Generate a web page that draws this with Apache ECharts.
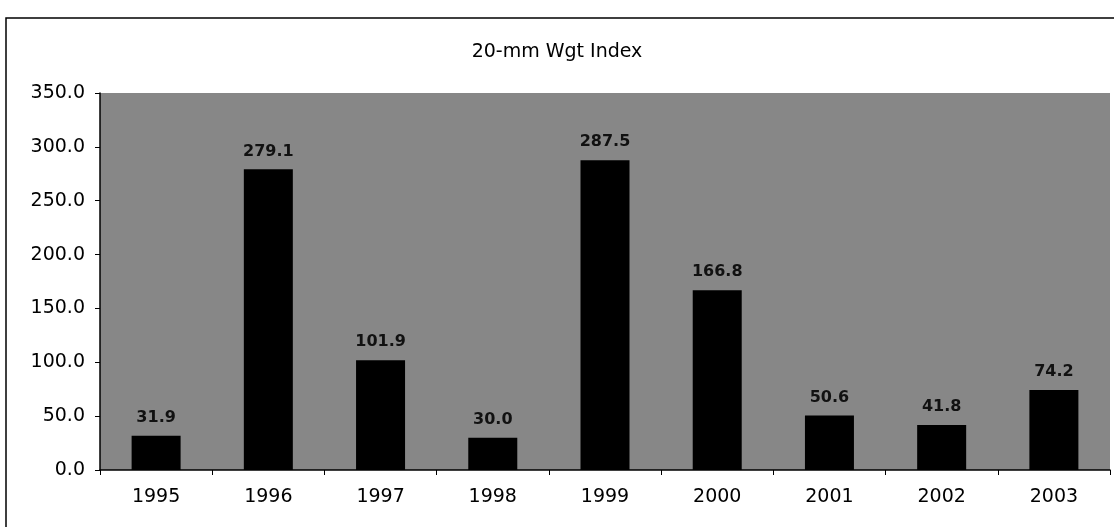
<!DOCTYPE html>
<html><head><meta charset="utf-8">
<script src="https://cdn.jsdelivr.net/npm/echarts@6/dist/echarts.min.js"></script>
<style>html,body{margin:0;padding:0;background:#fff}#c{width:1114px;height:527px}</style>
</head><body><div id="c"></div>
<script>
const categories = ['1995','1996','1997','1998','1999','2000','2001','2002','2003'];
const values = [31.9, 279.1, 101.9, 30.0, 287.5, 166.8, 50.6, 41.8, 74.2];
const yTicks = [0, 50, 100, 150, 200, 250, 300, 350];

const FONT = 'DejaVu Sans, Liberation Sans, Arial';
const chart = echarts.init(document.getElementById('c'));
chart.setOption({
  backgroundColor: '#fff',
  animation: false,
  title: {text: '20-mm Wgt Index', left: 'center', top: 38,
    textStyle: {fontFamily: FONT, fontSize: 19, fontWeight: 'normal', color: '#000'}},
  graphic: [{type: 'rect', shape: {x: 6, y: 18, width: 1112, height: 520},
    style: {fill: 'none', stroke: '#000', lineWidth: 1.5}, silent: true}],
  grid: {left: 100, right: 4, top: 93, bottom: 57, show: true, backgroundColor: '#878787', borderWidth: 0},
  xAxis: {type: 'category', data: categories,
    axisLine: {lineStyle: {color: '#000', width: 1.5}},
    axisTick: {show: true, length: 5, lineStyle: {color: '#000'}},
    axisLabel: {fontFamily: FONT, fontSize: 19, color: '#000', margin: 18}},
  yAxis: {type: 'value', min: yTicks[0], max: yTicks[yTicks.length-1], interval: 50,
    axisLine: {show: true, lineStyle: {color: '#000', width: 1.5}},
    axisTick: {show: true, length: 5, lineStyle: {color: '#000'}},
    splitLine: {show: false},
    axisLabel: {fontFamily: FONT, fontSize: 19, color: '#000', margin: 15,
      formatter: v => v.toFixed(1)}},
  series: [{type: 'bar', data: values, barWidth: 49,
    itemStyle: {color: '#000'},
    label: {show: true, position: 'top', distance: 10, color: '#111',
      fontFamily: FONT, fontSize: 16, fontWeight: 'bold',
      formatter: p => p.value.toFixed(1)}}]
});
</script></body></html>
